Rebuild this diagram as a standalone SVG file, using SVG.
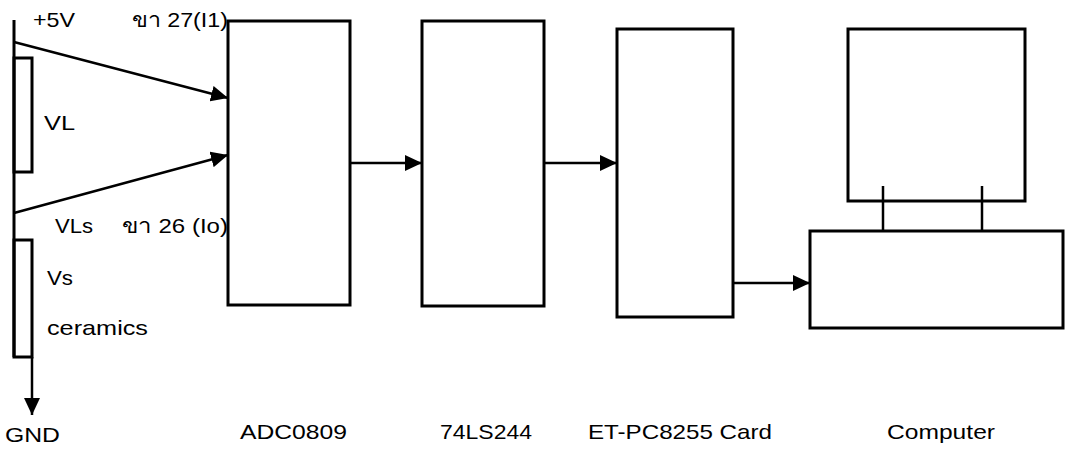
<svg xmlns="http://www.w3.org/2000/svg" width="1069" height="449" viewBox="0 0 1069 449">
<style>
.box{fill:none;stroke:#000;stroke-width:3}
.ln{fill:none;stroke:#000;stroke-width:2.5}
text{font-family:"Liberation Sans","Noto Sans",Arial,sans-serif;font-size:21px;fill:#000}
</style>
<defs>
<marker id="ah" markerUnits="userSpaceOnUse" markerWidth="18" markerHeight="16" refX="17" refY="8" orient="auto">
<path d="M0,0 L17,8 L0,16 z" fill="#000"/>
</marker>
</defs>
<rect width="1069" height="449" fill="#fff"/>
<g id="sensor">
<line class="box" x1="14" y1="20" x2="14" y2="357"/>
<rect class="box" x="14" y="58" width="18" height="114"/>
<rect class="box" x="14" y="240" width="18" height="117"/>
<text x="33" y="27" textLength="42" lengthAdjust="spacingAndGlyphs">+5V</text>
<text x="44" y="130" textLength="31" lengthAdjust="spacingAndGlyphs">VL</text>
<text x="55" y="233" textLength="38" lengthAdjust="spacingAndGlyphs">VLs</text>
<text x="47" y="285" textLength="26" lengthAdjust="spacingAndGlyphs">Vs</text>
<text x="47" y="335" textLength="101" lengthAdjust="spacingAndGlyphs">ceramics</text>
<text x="5" y="442" textLength="55" lengthAdjust="spacingAndGlyphs">GND</text>
</g>
<g id="adc">
<rect class="box" x="228" y="21" width="122" height="284"/>
<text x="132" y="27" textLength="96" lengthAdjust="spacingAndGlyphs">ขา 27(I1)</text>
<text x="122" y="233" textLength="106" lengthAdjust="spacingAndGlyphs">ขา 26 (Io)</text>
<text x="240" y="439" textLength="107" lengthAdjust="spacingAndGlyphs">ADC0809</text>
</g>
<g id="buffer">
<rect class="box" x="422" y="21" width="122" height="285"/>
<text x="440" y="439" textLength="92" lengthAdjust="spacingAndGlyphs">74LS244</text>
</g>
<g id="card">
<rect class="box" x="617" y="29" width="116" height="288"/>
<text x="588" y="439" textLength="184" lengthAdjust="spacingAndGlyphs">ET-PC8255 Card</text>
</g>
<g id="computer">
<rect class="box" x="848" y="29" width="177" height="172"/>
<rect class="box" x="810" y="231" width="253" height="97"/>
<line class="ln" x1="883" y1="186" x2="883" y2="231"/>
<line class="ln" x1="982" y1="186" x2="982" y2="231"/>
<text x="887" y="439" textLength="108" lengthAdjust="spacingAndGlyphs">Computer</text>
</g>
<g id="connectors">
<line class="ln" x1="14" y1="42" x2="228" y2="98" marker-end="url(#ah)"/>
<line class="ln" x1="14" y1="213" x2="228" y2="155" marker-end="url(#ah)"/>
<line class="ln" x1="32" y1="357" x2="32" y2="415" marker-end="url(#ah)"/>
<line class="ln" x1="350" y1="163" x2="422" y2="163" marker-end="url(#ah)"/>
<line class="ln" x1="544" y1="163" x2="617" y2="163" marker-end="url(#ah)"/>
<line class="ln" x1="733" y1="283" x2="810" y2="283" marker-end="url(#ah)"/>
</g>
</svg>
